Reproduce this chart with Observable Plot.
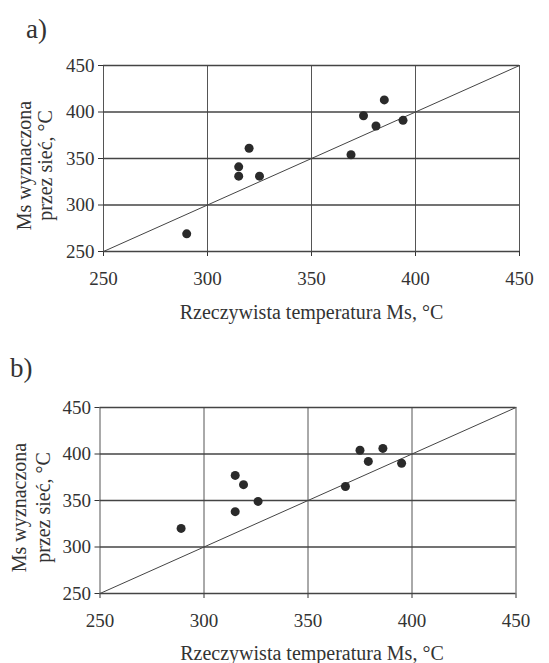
<!DOCTYPE html>
<html><head><meta charset="utf-8">
<script src="https://cdn.jsdelivr.net/npm/d3@7"></script>
<script src="https://cdn.jsdelivr.net/npm/@observablehq/plot@0.6"></script>
<style>
body{margin:0;background:#fff;}
#wrap{position:relative;width:549px;height:663px;overflow:hidden;background:#fff;}
#wrap svg, #wrap svg text{font-family:"Liberation Serif",serif !important;}
.panel{position:absolute;left:0;}
.lab{position:absolute;font-family:"Liberation Serif",serif;font-size:27px;color:#333;line-height:1;}
</style></head><body>
<div id="wrap">
 <div class="panel" id="pa" style="top:0"></div>
 <div class="panel" id="pb" style="top:330px"></div>
 <div class="lab" style="left:26px;top:16px">a)</div>
 <div class="lab" style="left:10px;top:355px">b)</div>
</div>
<script>
const ticks = [250, 300, 350, 400, 450];
const diagonal = [250, 450];
const actualA    = [290, 315, 315, 320, 325, 369, 375, 381, 385, 394];
const predictedA = [269, 341, 331, 361, 331, 354, 396, 385, 413, 391];
const actualB    = [289, 315, 315, 319, 326, 368, 375, 379, 386, 395];
const predictedB = [320, 377, 338, 367, 349, 365, 404, 392, 406, 390];
const xTitle = "Rzeczywista temperatura Ms, °C";
const yTitle1 = "Ms wyznaczona";
const yTitle2 = "przez sieć, °C";

function panel(xs, ys, g) {
  const pts = xs.map((x, i) => ({x, y: ys[i]}));
  const font = '"Liberation Serif", serif';
  return Plot.plot({
    width: 549, height: g.h,
    marginLeft: g.l, marginRight: 549 - g.r, marginTop: g.t, marginBottom: g.h - g.b,
    style: {fontFamily: font, fontSize: "19px", color: "#333", background: "white", overflow: "visible"},
    x: {domain: [250, 450], ticks: ticks, tickSize: 5, tickPadding: 15, label: null, tickFormat: d => String(d)},
    y: {domain: [250, 450], ticks: ticks, tickSize: 5, tickPadding: 4, label: null, tickFormat: d => String(d)},
    marks: [
      Plot.ruleX(ticks, {stroke: "#555", strokeWidth: 1}),
      Plot.ruleY(ticks, {stroke: "#444", strokeWidth: 1.3}),
      Plot.line(diagonal, {x: d => d, y: d => d, stroke: "#444", strokeWidth: 1}),
      Plot.dot(pts, {x: "x", y: "y", r: 4.5, fill: "#2a2a2a", stroke: "none"}),
      Plot.text([xTitle], {text: d => d, frameAnchor: "bottom", textAnchor: "middle", lineAnchor: "middle", dx: g.xdx, dy: g.xdy, fontSize: 20, fontFamily: font, fill: "#333"}),
      Plot.text([yTitle1], {text: d => d, frameAnchor: "left", textAnchor: "middle", lineAnchor: "middle", rotate: -90, dx: g.y1dx, dy: g.ydy, fontSize: 20, fontFamily: font, fill: "#333"}),
      Plot.text([yTitle2], {text: d => d, frameAnchor: "left", textAnchor: "middle", lineAnchor: "middle", rotate: -90, dx: g.y2dx, dy: g.ydy, fontSize: 20, fontFamily: font, fill: "#333"})
    ]
  });
}

document.getElementById("pa").appendChild(panel(actualA, predictedA,
  {h: 330, l: 103, r: 519, t: 65, b: 251, xdx: 0, xdy: 61, y1dx: -79, y2dx: -58, ydy: 7}));
document.getElementById("pb").appendChild(panel(actualB, predictedB,
  {h: 333, l: 99.5, r: 515.5, t: 77, b: 263, xdx: 4, xdy: 60, y1dx: -80, y2dx: -56, ydy: 7}));
</script>
</body></html>
